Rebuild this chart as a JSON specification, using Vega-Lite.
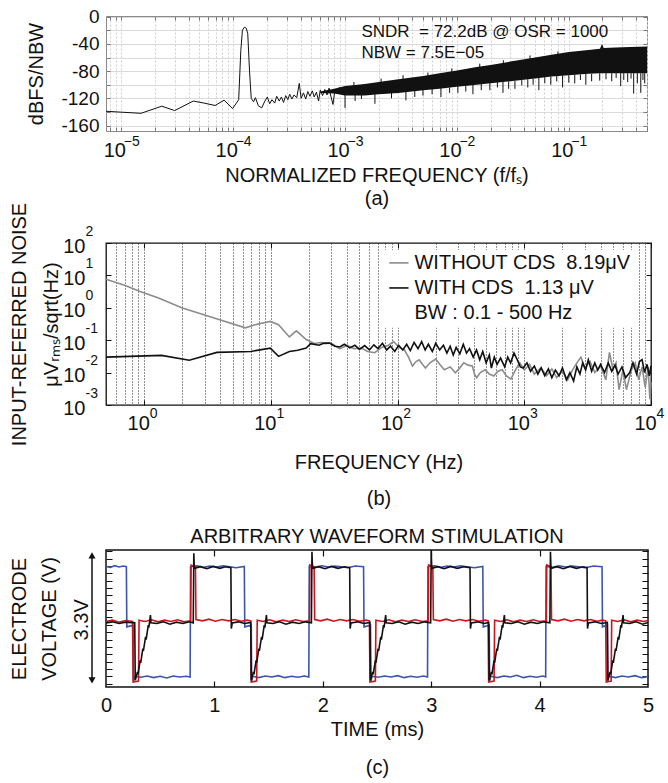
{
  "$schema": "https://vega.github.io/schema/vega-lite/v6.json",
  "padding": {"left": 8, "top": 7, "right": 0, "bottom": 0},
  "background": "white",
  "config": {
    "font": "Liberation Sans",
    "view": {"stroke": null},
    "axis": {"domain": false, "labelColor": "#111", "titleColor": "#111", "titleFontWeight": "normal", "labelFontSize": 19, "titleFontSize": 20, "labelFlush": false, "labelOverlap": false, "labelBound": false, "tickColor": "#111"},
    "title": {"fontWeight": "normal", "font": "Liberation Sans"},
    "text": {"font": "Liberation Sans"}
  },
  "datasets": {
    "a_line": [
      {"f": 0.0000073, "v": -139}, {"f": 0.000015, "v": -142}, {"f": 0.000023, "v": -131.5}, {"f": 0.00003, "v": -138},
      {"f": 0.000044, "v": -124}, {"f": 0.000055, "v": -127}, {"f": 0.000069, "v": -130.5}, {"f": 0.000083, "v": -122.7},
      {"f": 0.000099, "v": -135}, {"f": 0.000112, "v": -122}, {"f": 0.000117, "v": -50}, {"f": 0.000121, "v": -20},
      {"f": 0.000126, "v": -15.5}, {"f": 0.000131, "v": -17}, {"f": 0.000135, "v": -25}, {"f": 0.00014, "v": -80},
      {"f": 0.000145, "v": -120}, {"f": 0.000152, "v": -125}, {"f": 0.000158, "v": -119}, {"f": 0.000168, "v": -131},
      {"f": 0.00018, "v": -134}, {"f": 0.000192, "v": -124}, {"f": 0.000202, "v": -118}, {"f": 0.000212, "v": -128},
      {"f": 0.000222, "v": -122}, {"f": 0.000235, "v": -127}, {"f": 0.000245, "v": -117}, {"f": 0.000258, "v": -124},
      {"f": 0.00027, "v": -118}, {"f": 0.000282, "v": -126}, {"f": 0.000295, "v": -116}, {"f": 0.000308, "v": -122},
      {"f": 0.00032, "v": -114}, {"f": 0.000335, "v": -121}, {"f": 0.00035, "v": -115}, {"f": 0.00037, "v": -119},
      {"f": 0.00039, "v": -98}, {"f": 0.000405, "v": -120}, {"f": 0.000425, "v": -112}, {"f": 0.000445, "v": -121},
      {"f": 0.000465, "v": -110}, {"f": 0.000485, "v": -117}, {"f": 0.00051, "v": -109}, {"f": 0.00053, "v": -118},
      {"f": 0.000555, "v": -111}, {"f": 0.00058, "v": -124}, {"f": 0.0006, "v": -108}, {"f": 0.00063, "v": -116},
      {"f": 0.00066, "v": -107}, {"f": 0.00069, "v": -115}, {"f": 0.00072, "v": -105}, {"f": 0.00075, "v": -118},
      {"f": 0.00078, "v": -129}, {"f": 0.00081, "v": -109}, {"f": 0.00085, "v": -113}, {"f": 0.00089, "v": -104},
      {"f": 0.00093, "v": -114}, {"f": 0.00097, "v": -106}, {"f": 0.001, "v": -112}, {"f": 0.00105, "v": -103},
      {"f": 0.0011, "v": -111}, {"f": 0.00115, "v": -104}, {"f": 0.0012, "v": -109}
    ],
    "a_band": [
      {"f": 0.0006, "hi": -110, "lo": -112}, {"f": 0.0008, "hi": -106, "lo": -113}, {"f": 0.001, "hi": -102, "lo": -116}, {"f": 0.0015, "hi": -99, "lo": -116},
      {"f": 0.002, "hi": -96, "lo": -114}, {"f": 0.003, "hi": -92, "lo": -112}, {"f": 0.005, "hi": -87, "lo": -108},
      {"f": 0.007, "hi": -83, "lo": -106}, {"f": 0.01, "hi": -79, "lo": -103}, {"f": 0.015, "hi": -74, "lo": -100},
      {"f": 0.02, "hi": -71, "lo": -98}, {"f": 0.03, "hi": -66, "lo": -95}, {"f": 0.05, "hi": -60, "lo": -91},
      {"f": 0.07, "hi": -56, "lo": -88}, {"f": 0.1, "hi": -52, "lo": -86}, {"f": 0.15, "hi": -49, "lo": -84},
      {"f": 0.19, "hi": -47, "lo": -83}, {"f": 0.198, "hi": -40, "lo": -83}, {"f": 0.205, "hi": -46, "lo": -83},
      {"f": 0.3, "hi": -45, "lo": -83}, {"f": 0.5, "hi": -44, "lo": -83}
    ],
    "a_spikes": [
      {"f": 0.001, "top": -114, "bot": -134}, {"f": 0.00123, "top": -114, "bot": -124}, {"f": 0.0014, "top": -114, "bot": -121},
      {"f": 0.00185, "top": -113, "bot": -128}, {"f": 0.0026, "top": -112, "bot": -120}, {"f": 0.0035, "top": -110, "bot": -123},
      {"f": 0.0042, "top": -109, "bot": -118}, {"f": 0.00497, "top": -107, "bot": -116}, {"f": 0.006, "top": -106, "bot": -114},
      {"f": 0.0072, "top": -105, "bot": -118}, {"f": 0.0086, "top": -104, "bot": -112}, {"f": 0.0102, "top": -102, "bot": -112},
      {"f": 0.012, "top": -101, "bot": -110}, {"f": 0.0139, "top": -99, "bot": -114}, {"f": 0.0165, "top": -98, "bot": -108},
      {"f": 0.0197, "top": -97, "bot": -108}, {"f": 0.023, "top": -96, "bot": -104}, {"f": 0.0258, "top": -96, "bot": -112},
      {"f": 0.029, "top": -95, "bot": -106}, {"f": 0.033, "top": -94, "bot": -106}, {"f": 0.038, "top": -93, "bot": -101},
      {"f": 0.043, "top": -92, "bot": -104}, {"f": 0.048, "top": -91, "bot": -100}, {"f": 0.054, "top": -90, "bot": -108},
      {"f": 0.061, "top": -89, "bot": -98}, {"f": 0.069, "top": -88, "bot": -100}, {"f": 0.078, "top": -87, "bot": -95},
      {"f": 0.088, "top": -86, "bot": -104}, {"f": 0.1, "top": -86, "bot": -97}, {"f": 0.113, "top": -85, "bot": -98},
      {"f": 0.127, "top": -85, "bot": -93}, {"f": 0.142, "top": -84, "bot": -100}, {"f": 0.16, "top": -84, "bot": -95},
      {"f": 0.189, "top": -83, "bot": -94}, {"f": 0.215, "top": -83, "bot": -92}, {"f": 0.242, "top": -83, "bot": -95},
      {"f": 0.265, "top": -83, "bot": -90}, {"f": 0.291, "top": -83, "bot": -102}, {"f": 0.31, "top": -83, "bot": -93},
      {"f": 0.336, "top": -83, "bot": -96}, {"f": 0.36, "top": -83, "bot": -91}, {"f": 0.38, "top": -83, "bot": -113},
      {"f": 0.41, "top": -83, "bot": -98}, {"f": 0.44, "top": -83, "bot": -112}, {"f": 0.46, "top": -83, "bot": -93},
      {"f": 0.477, "top": -83, "bot": -98},
      {"f": 0.0012, "top": -96, "bot": -103}, {"f": 0.0021, "top": -91, "bot": -98}, {"f": 0.0033, "top": -86, "bot": -93},
      {"f": 0.0055, "top": -82, "bot": -88}, {"f": 0.009, "top": -76, "bot": -82}, {"f": 0.016, "top": -69, "bot": -75},
      {"f": 0.026, "top": -64, "bot": -70}, {"f": 0.045, "top": -57, "bot": -63}, {"f": 0.08, "top": -51, "bot": -57}
    ],
    "a_text": [
      {"f": 0.0014, "v": -22, "txt": "SNDR\u00a0 = 72.2dB @ OSR = 1000"},
      {"f": 0.0014, "v": -53, "txt": "NBW = 7.5E\u221205"}
    ],
    "b_gray": [
      {"f": 0.5, "v": 7.6}, {"f": 0.7, "v": 5.0}, {"f": 0.93, "v": 3.2}, {"f": 1.3, "v": 2.0}, {"f": 2.0, "v": 0.98},
      {"f": 2.96, "v": 0.61}, {"f": 4.0, "v": 0.42}, {"f": 6.3, "v": 0.24}, {"f": 7.5, "v": 0.30}, {"f": 9.9, "v": 0.38},
      {"f": 11.5, "v": 0.30}, {"f": 14, "v": 0.126}, {"f": 15.9, "v": 0.195}, {"f": 19, "v": 0.105}, {"f": 22, "v": 0.079},
      {"f": 25, "v": 0.085}, {"f": 30, "v": 0.081}, {"f": 35, "v": 0.054}, {"f": 40, "v": 0.07}, {"f": 45, "v": 0.055},
      {"f": 52, "v": 0.057}, {"f": 58, "v": 0.045}, {"f": 66, "v": 0.041}, {"f": 75, "v": 0.06}, {"f": 85, "v": 0.07},
      {"f": 93, "v": 0.091}, {"f": 103, "v": 0.06}, {"f": 113, "v": 0.051}, {"f": 122, "v": 0.03}, {"f": 131, "v": 0.016},
      {"f": 140, "v": 0.022}, {"f": 148, "v": 0.025}, {"f": 157, "v": 0.018}, {"f": 166, "v": 0.0138}, {"f": 180, "v": 0.02},
      {"f": 200, "v": 0.026}, {"f": 215, "v": 0.018}, {"f": 234, "v": 0.0123}, {"f": 260, "v": 0.015}, {"f": 286, "v": 0.0098},
      {"f": 310, "v": 0.014}, {"f": 333, "v": 0.02}, {"f": 360, "v": 0.017}, {"f": 389, "v": 0.016}, {"f": 405, "v": 0.009},
      {"f": 421, "v": 0.0069}, {"f": 450, "v": 0.01}, {"f": 492, "v": 0.0123}, {"f": 530, "v": 0.009}, {"f": 574, "v": 0.0078},
      {"f": 620, "v": 0.011}, {"f": 670, "v": 0.0123}, {"f": 720, "v": 0.008}, {"f": 784, "v": 0.0063}, {"f": 850, "v": 0.012},
      {"f": 920, "v": 0.02}, {"f": 1000, "v": 0.012}, {"f": 1100, "v": 0.018}, {"f": 1200, "v": 0.009}, {"f": 1350, "v": 0.014},
      {"f": 1500, "v": 0.008}, {"f": 1650, "v": 0.013}, {"f": 1800, "v": 0.007}, {"f": 2000, "v": 0.011}, {"f": 2200, "v": 0.006},
      {"f": 2400, "v": 0.012}, {"f": 2600, "v": 0.02}, {"f": 2800, "v": 0.03}, {"f": 3000, "v": 0.014}, {"f": 3300, "v": 0.022},
      {"f": 3600, "v": 0.01}, {"f": 4000, "v": 0.016}, {"f": 4400, "v": 0.006}, {"f": 4700, "v": 0.042}, {"f": 5000, "v": 0.013},
      {"f": 5300, "v": 0.02}, {"f": 5600, "v": 0.003}, {"f": 6000, "v": 0.012}, {"f": 6400, "v": 0.003}, {"f": 7000, "v": 0.012},
      {"f": 7500, "v": 0.02}, {"f": 8000, "v": 0.006}, {"f": 8500, "v": 0.015}, {"f": 9000, "v": 0.0035}, {"f": 9500, "v": 0.015},
      {"f": 9800, "v": 0.0015}, {"f": 10000, "v": 0.005}
    ],
    "b_black": [
      {"f": 0.5, "v": 0.03}, {"f": 1.37, "v": 0.034}, {"f": 2.27, "v": 0.024}, {"f": 3.75, "v": 0.042}, {"f": 6.95, "v": 0.045},
      {"f": 9.9, "v": 0.057}, {"f": 11.5, "v": 0.0316}, {"f": 14, "v": 0.045}, {"f": 16.3, "v": 0.049}, {"f": 19, "v": 0.057},
      {"f": 20.6, "v": 0.078}, {"f": 24, "v": 0.07}, {"f": 26, "v": 0.08}, {"f": 29, "v": 0.081}, {"f": 32, "v": 0.065},
      {"f": 35, "v": 0.062}, {"f": 38, "v": 0.075}, {"f": 42, "v": 0.058}, {"f": 46, "v": 0.07}, {"f": 50, "v": 0.052},
      {"f": 55, "v": 0.068}, {"f": 60, "v": 0.05}, {"f": 65, "v": 0.072}, {"f": 70, "v": 0.055}, {"f": 76, "v": 0.08},
      {"f": 82, "v": 0.05}, {"f": 88, "v": 0.065}, {"f": 95, "v": 0.045}, {"f": 102, "v": 0.07}, {"f": 110, "v": 0.05},
      {"f": 118, "v": 0.075}, {"f": 126, "v": 0.048}, {"f": 135, "v": 0.085}, {"f": 145, "v": 0.055}, {"f": 155, "v": 0.09},
      {"f": 165, "v": 0.05}, {"f": 175, "v": 0.075}, {"f": 188, "v": 0.045}, {"f": 200, "v": 0.08}, {"f": 215, "v": 0.05},
      {"f": 230, "v": 0.07}, {"f": 245, "v": 0.04}, {"f": 260, "v": 0.065}, {"f": 275, "v": 0.035}, {"f": 290, "v": 0.06},
      {"f": 310, "v": 0.038}, {"f": 330, "v": 0.075}, {"f": 350, "v": 0.04}, {"f": 370, "v": 0.055}, {"f": 395, "v": 0.03},
      {"f": 420, "v": 0.05}, {"f": 445, "v": 0.025}, {"f": 470, "v": 0.045}, {"f": 500, "v": 0.02}, {"f": 530, "v": 0.035},
      {"f": 550, "v": 0.0138}, {"f": 580, "v": 0.03}, {"f": 610, "v": 0.018}, {"f": 650, "v": 0.028}, {"f": 700, "v": 0.015},
      {"f": 740, "v": 0.03}, {"f": 780, "v": 0.02}, {"f": 830, "v": 0.04}, {"f": 880, "v": 0.025}, {"f": 930, "v": 0.015},
      {"f": 980, "v": 0.0138}, {"f": 1050, "v": 0.02}, {"f": 1120, "v": 0.011}, {"f": 1200, "v": 0.016}, {"f": 1280, "v": 0.009},
      {"f": 1360, "v": 0.014}, {"f": 1450, "v": 0.008}, {"f": 1550, "v": 0.013}, {"f": 1650, "v": 0.007}, {"f": 1760, "v": 0.012},
      {"f": 1880, "v": 0.008}, {"f": 2000, "v": 0.014}, {"f": 2150, "v": 0.006}, {"f": 2290, "v": 0.01}, {"f": 2450, "v": 0.0055},
      {"f": 2600, "v": 0.015}, {"f": 2750, "v": 0.009}, {"f": 2890, "v": 0.02}, {"f": 3050, "v": 0.012}, {"f": 3200, "v": 0.025},
      {"f": 3400, "v": 0.011}, {"f": 3600, "v": 0.02}, {"f": 3800, "v": 0.012}, {"f": 4000, "v": 0.018}, {"f": 4300, "v": 0.01},
      {"f": 4600, "v": 0.02}, {"f": 4900, "v": 0.011}, {"f": 5200, "v": 0.017}, {"f": 5500, "v": 0.009}, {"f": 5900, "v": 0.015},
      {"f": 6300, "v": 0.007}, {"f": 6800, "v": 0.01}, {"f": 7200, "v": 0.02}, {"f": 7700, "v": 0.009}, {"f": 8100, "v": 0.022},
      {"f": 8500, "v": 0.025}, {"f": 8900, "v": 0.01}, {"f": 9300, "v": 0.018}, {"f": 9700, "v": 0.008}, {"f": 10000, "v": 0.016}
    ],
    "b_leg": [
      {"f": 136, "v": 24.3, "txt": "WITHOUT CDS\u00a0\u00a08.19\u03bcV"},
      {"f": 136, "v": 4.1, "txt": "WITH CDS\u00a0\u00a01.13\u00a0\u03bcV"},
      {"f": 136, "v": 0.7, "txt": "BW : 0.1 - 500 Hz"}
    ],
    "c_blue": [
      {"t": 0.0, "v": 3.31}, {"t": 0.04, "v": 3.28}, {"t": 0.08, "v": 3.33}, {"t": 0.12, "v": 3.29}, {"t": 0.16, "v": 3.32},
      {"t": 0.188, "v": 3.3}, {"t": 0.192, "v": 1.5}, {"t": 0.25, "v": 1.55}, {"t": 0.254, "v": -0.12}, {"t": 0.265, "v": 0.02},
      {"t": 0.32, "v": -0.01}, {"t": 0.38, "v": 0.03}, {"t": 0.44, "v": -0.02}, {"t": 0.5, "v": 0.02}, {"t": 0.56, "v": -0.03},
      {"t": 0.62, "v": 0.03}, {"t": 0.68, "v": 0.0}, {"t": 0.74, "v": 0.02}, {"t": 0.776, "v": 0.0}, {"t": 0.78, "v": 3.3},
      {"t": 0.84, "v": 3.33}, {"t": 0.9, "v": 3.28}, {"t": 0.96, "v": 3.32}, {"t": 1.02, "v": 3.29}, {"t": 1.08, "v": 3.33},
      {"t": 1.14, "v": 3.3}, {"t": 1.2, "v": 3.27}, {"t": 1.276, "v": 3.31}, {"t": 1.28, "v": 1.5}, {"t": 1.34, "v": 1.55},
      {"t": 1.344, "v": -0.12}, {"t": 1.355, "v": 0.02}, {"t": 1.41, "v": -0.02}, {"t": 1.47, "v": 0.03}, {"t": 1.53, "v": 0.0},
      {"t": 1.59, "v": 0.04}, {"t": 1.65, "v": -0.02}, {"t": 1.71, "v": 0.02}, {"t": 1.77, "v": -0.01}, {"t": 1.83, "v": 0.03},
      {"t": 1.871, "v": 0.0}, {"t": 1.875, "v": 3.31}, {"t": 1.93, "v": 3.28}, {"t": 1.99, "v": 3.33}, {"t": 2.05, "v": 3.29},
      {"t": 2.11, "v": 3.32}, {"t": 2.17, "v": 3.3}, {"t": 2.23, "v": 3.27}, {"t": 2.3, "v": 3.32}, {"t": 2.376, "v": 3.3},
      {"t": 2.38, "v": 1.5}, {"t": 2.44, "v": 1.55}, {"t": 2.444, "v": -0.12}, {"t": 2.455, "v": 0.02}, {"t": 2.51, "v": -0.01},
      {"t": 2.57, "v": 0.03}, {"t": 2.63, "v": 0.0}, {"t": 2.69, "v": 0.04}, {"t": 2.75, "v": -0.02}, {"t": 2.81, "v": 0.02},
      {"t": 2.87, "v": -0.01}, {"t": 2.93, "v": 0.03}, {"t": 2.966, "v": 0.0}, {"t": 2.97, "v": 3.3}, {"t": 3.03, "v": 3.33},
      {"t": 3.09, "v": 3.28}, {"t": 3.15, "v": 3.32}, {"t": 3.21, "v": 3.29}, {"t": 3.27, "v": 3.33}, {"t": 3.33, "v": 3.3},
      {"t": 3.4, "v": 3.27}, {"t": 3.476, "v": 3.31}, {"t": 3.48, "v": 1.5}, {"t": 3.535, "v": 1.55}, {"t": 3.539, "v": -0.12},
      {"t": 3.55, "v": 0.02}, {"t": 3.61, "v": -0.02}, {"t": 3.67, "v": 0.03}, {"t": 3.73, "v": 0.0}, {"t": 3.79, "v": 0.05},
      {"t": 3.85, "v": -0.02}, {"t": 3.91, "v": 0.02}, {"t": 3.97, "v": -0.01}, {"t": 4.03, "v": 0.03}, {"t": 4.056, "v": 0.0},
      {"t": 4.06, "v": 3.31}, {"t": 4.12, "v": 3.28}, {"t": 4.18, "v": 3.33}, {"t": 4.24, "v": 3.29}, {"t": 4.3, "v": 3.32},
      {"t": 4.36, "v": 3.3}, {"t": 4.42, "v": 3.27}, {"t": 4.5, "v": 3.32}, {"t": 4.576, "v": 3.3}, {"t": 4.58, "v": 1.5},
      {"t": 4.625, "v": 1.55}, {"t": 4.629, "v": -0.12}, {"t": 4.64, "v": 0.02}, {"t": 4.7, "v": -0.02}, {"t": 4.76, "v": 0.03},
      {"t": 4.82, "v": 0.0}, {"t": 4.88, "v": 0.04}, {"t": 4.94, "v": -0.02}, {"t": 5.0, "v": 0.01}
    ],
    "c_red": [
      {"t": 0.0, "v": 1.66}, {"t": 0.06, "v": 1.7}, {"t": 0.12, "v": 1.64}, {"t": 0.18, "v": 1.69}, {"t": 0.245, "v": 1.66},
      {"t": 0.25, "v": -0.15}, {"t": 0.3, "v": -0.12}, {"t": 0.305, "v": 1.7}, {"t": 0.36, "v": 1.66}, {"t": 0.42, "v": 1.71},
      {"t": 0.48, "v": 1.65}, {"t": 0.54, "v": 1.7}, {"t": 0.6, "v": 1.66}, {"t": 0.66, "v": 1.71}, {"t": 0.72, "v": 1.65},
      {"t": 0.781, "v": 1.68}, {"t": 0.785, "v": 3.35}, {"t": 0.825, "v": 3.3}, {"t": 0.83, "v": 1.72}, {"t": 0.89, "v": 1.68},
      {"t": 0.95, "v": 1.73}, {"t": 1.01, "v": 1.67}, {"t": 1.07, "v": 1.72}, {"t": 1.13, "v": 1.68}, {"t": 1.19, "v": 1.72},
      {"t": 1.25, "v": 1.67}, {"t": 1.3, "v": 1.7}, {"t": 1.335, "v": 1.68}, {"t": 1.34, "v": -0.15}, {"t": 1.39, "v": -0.12},
      {"t": 1.395, "v": 1.7}, {"t": 1.45, "v": 1.66}, {"t": 1.51, "v": 1.71}, {"t": 1.57, "v": 1.65}, {"t": 1.63, "v": 1.7},
      {"t": 1.69, "v": 1.66}, {"t": 1.75, "v": 1.71}, {"t": 1.82, "v": 1.66}, {"t": 1.877, "v": 1.68}, {"t": 1.881, "v": 3.35},
      {"t": 1.92, "v": 3.3}, {"t": 1.925, "v": 1.72}, {"t": 1.98, "v": 1.68}, {"t": 2.04, "v": 1.73}, {"t": 2.1, "v": 1.67},
      {"t": 2.16, "v": 1.72}, {"t": 2.22, "v": 1.68}, {"t": 2.28, "v": 1.72}, {"t": 2.34, "v": 1.67}, {"t": 2.4, "v": 1.7},
      {"t": 2.43, "v": 1.68}, {"t": 2.435, "v": -0.15}, {"t": 2.485, "v": -0.12}, {"t": 2.49, "v": 1.7}, {"t": 2.55, "v": 1.66},
      {"t": 2.61, "v": 1.71}, {"t": 2.67, "v": 1.65}, {"t": 2.73, "v": 1.7}, {"t": 2.79, "v": 1.66}, {"t": 2.85, "v": 1.71},
      {"t": 2.92, "v": 1.66}, {"t": 2.972, "v": 1.68}, {"t": 2.976, "v": 3.35}, {"t": 3.015, "v": 3.3}, {"t": 3.02, "v": 1.72},
      {"t": 3.08, "v": 1.68}, {"t": 3.14, "v": 1.73}, {"t": 3.2, "v": 1.67}, {"t": 3.26, "v": 1.72}, {"t": 3.32, "v": 1.68},
      {"t": 3.38, "v": 1.72}, {"t": 3.44, "v": 1.67}, {"t": 3.5, "v": 1.7}, {"t": 3.525, "v": 1.68}, {"t": 3.53, "v": -0.15},
      {"t": 3.58, "v": -0.12}, {"t": 3.585, "v": 1.7}, {"t": 3.64, "v": 1.66}, {"t": 3.7, "v": 1.71}, {"t": 3.76, "v": 1.65},
      {"t": 3.82, "v": 1.7}, {"t": 3.88, "v": 1.66}, {"t": 3.94, "v": 1.71}, {"t": 4.0, "v": 1.66}, {"t": 4.062, "v": 1.68},
      {"t": 4.066, "v": 3.35}, {"t": 4.105, "v": 3.3}, {"t": 4.11, "v": 1.72}, {"t": 4.17, "v": 1.68}, {"t": 4.23, "v": 1.73},
      {"t": 4.29, "v": 1.67}, {"t": 4.35, "v": 1.72}, {"t": 4.41, "v": 1.68}, {"t": 4.47, "v": 1.72}, {"t": 4.53, "v": 1.67},
      {"t": 4.58, "v": 1.7}, {"t": 4.61, "v": 1.68}, {"t": 4.615, "v": -0.15}, {"t": 4.66, "v": -0.12}, {"t": 4.665, "v": 1.7},
      {"t": 4.72, "v": 1.66}, {"t": 4.78, "v": 1.71}, {"t": 4.84, "v": 1.65}, {"t": 4.9, "v": 1.7}, {"t": 4.96, "v": 1.66},
      {"t": 5.0, "v": 1.69}
    ],
    "c_black": [
      {"t": 0.0, "v": 1.62}, {"t": 0.06, "v": 1.65}, {"t": 0.12, "v": 1.6}, {"t": 0.18, "v": 1.64}, {"t": 0.265, "v": 1.62},
      {"t": 0.27, "v": -0.1}, {"t": 0.29, "v": 0.15}, {"t": 0.295, "v": 0.08}, {"t": 0.315, "v": 0.5}, {"t": 0.32, "v": 0.42},
      {"t": 0.34, "v": 0.85}, {"t": 0.345, "v": 0.78}, {"t": 0.365, "v": 1.2}, {"t": 0.37, "v": 1.12}, {"t": 0.39, "v": 1.55},
      {"t": 0.395, "v": 1.48}, {"t": 0.41, "v": 1.85}, {"t": 0.415, "v": 1.62}, {"t": 0.47, "v": 1.6}, {"t": 0.53, "v": 1.65},
      {"t": 0.59, "v": 1.58}, {"t": 0.65, "v": 1.64}, {"t": 0.71, "v": 1.6}, {"t": 0.77, "v": 1.65}, {"t": 0.805, "v": 1.62},
      {"t": 0.81, "v": 3.7}, {"t": 0.815, "v": 3.25}, {"t": 0.87, "v": 3.3}, {"t": 0.93, "v": 3.24}, {"t": 0.99, "v": 3.31},
      {"t": 1.05, "v": 3.25}, {"t": 1.1, "v": 3.3}, {"t": 1.152, "v": 3.27}, {"t": 1.156, "v": 1.45}, {"t": 1.165, "v": 1.62},
      {"t": 1.22, "v": 1.65}, {"t": 1.28, "v": 1.6}, {"t": 1.335, "v": 1.63}, {"t": 1.34, "v": -0.1}, {"t": 1.36, "v": 0.15},
      {"t": 1.365, "v": 0.08}, {"t": 1.385, "v": 0.5}, {"t": 1.39, "v": 0.42}, {"t": 1.41, "v": 0.85}, {"t": 1.415, "v": 0.78},
      {"t": 1.435, "v": 1.2}, {"t": 1.44, "v": 1.12}, {"t": 1.46, "v": 1.55}, {"t": 1.465, "v": 1.48}, {"t": 1.48, "v": 1.85},
      {"t": 1.485, "v": 1.62}, {"t": 1.54, "v": 1.6}, {"t": 1.6, "v": 1.65}, {"t": 1.66, "v": 1.58}, {"t": 1.72, "v": 1.64},
      {"t": 1.78, "v": 1.6}, {"t": 1.84, "v": 1.65}, {"t": 1.895, "v": 1.62}, {"t": 1.9, "v": 3.75}, {"t": 1.905, "v": 3.25},
      {"t": 1.96, "v": 3.3}, {"t": 2.02, "v": 3.24}, {"t": 2.08, "v": 3.31}, {"t": 2.14, "v": 3.25}, {"t": 2.2, "v": 3.3},
      {"t": 2.248, "v": 3.27}, {"t": 2.252, "v": 1.45}, {"t": 2.26, "v": 1.62}, {"t": 2.32, "v": 1.65}, {"t": 2.38, "v": 1.6},
      {"t": 2.435, "v": 1.63}, {"t": 2.44, "v": -0.1}, {"t": 2.46, "v": 0.15}, {"t": 2.465, "v": 0.08}, {"t": 2.485, "v": 0.5},
      {"t": 2.49, "v": 0.42}, {"t": 2.51, "v": 0.85}, {"t": 2.515, "v": 0.78}, {"t": 2.535, "v": 1.2}, {"t": 2.54, "v": 1.12},
      {"t": 2.56, "v": 1.55}, {"t": 2.565, "v": 1.48}, {"t": 2.58, "v": 1.85}, {"t": 2.585, "v": 1.62}, {"t": 2.64, "v": 1.6},
      {"t": 2.7, "v": 1.65}, {"t": 2.76, "v": 1.58}, {"t": 2.82, "v": 1.64}, {"t": 2.88, "v": 1.6}, {"t": 2.94, "v": 1.65},
      {"t": 2.995, "v": 1.62}, {"t": 3.0, "v": 3.8}, {"t": 3.005, "v": 3.25}, {"t": 3.06, "v": 3.3}, {"t": 3.12, "v": 3.24},
      {"t": 3.18, "v": 3.31}, {"t": 3.24, "v": 3.25}, {"t": 3.3, "v": 3.3}, {"t": 3.358, "v": 3.27}, {"t": 3.362, "v": 1.45},
      {"t": 3.37, "v": 1.62}, {"t": 3.43, "v": 1.65}, {"t": 3.49, "v": 1.6}, {"t": 3.53, "v": 1.63}, {"t": 3.535, "v": -0.1},
      {"t": 3.555, "v": 0.15}, {"t": 3.56, "v": 0.08}, {"t": 3.58, "v": 0.5}, {"t": 3.585, "v": 0.42}, {"t": 3.605, "v": 0.85},
      {"t": 3.61, "v": 0.78}, {"t": 3.63, "v": 1.2}, {"t": 3.635, "v": 1.12}, {"t": 3.655, "v": 1.55}, {"t": 3.66, "v": 1.48},
      {"t": 3.675, "v": 1.85}, {"t": 3.68, "v": 1.62}, {"t": 3.74, "v": 1.6}, {"t": 3.8, "v": 1.65}, {"t": 3.86, "v": 1.58},
      {"t": 3.92, "v": 1.64}, {"t": 3.98, "v": 1.6}, {"t": 4.04, "v": 1.65}, {"t": 4.095, "v": 1.62}, {"t": 4.1, "v": 3.75},
      {"t": 4.105, "v": 3.25}, {"t": 4.16, "v": 3.3}, {"t": 4.22, "v": 3.24}, {"t": 4.28, "v": 3.31}, {"t": 4.34, "v": 3.25},
      {"t": 4.4, "v": 3.3}, {"t": 4.438, "v": 3.27}, {"t": 4.442, "v": 1.45}, {"t": 4.45, "v": 1.62}, {"t": 4.51, "v": 1.65},
      {"t": 4.57, "v": 1.6}, {"t": 4.625, "v": 1.63}, {"t": 4.63, "v": -0.1}, {"t": 4.65, "v": 0.15}, {"t": 4.655, "v": 0.08},
      {"t": 4.675, "v": 0.5}, {"t": 4.68, "v": 0.42}, {"t": 4.7, "v": 0.85}, {"t": 4.705, "v": 0.78}, {"t": 4.725, "v": 1.2},
      {"t": 4.73, "v": 1.12}, {"t": 4.75, "v": 1.55}, {"t": 4.755, "v": 1.48}, {"t": 4.77, "v": 1.85}, {"t": 4.775, "v": 1.62},
      {"t": 4.83, "v": 1.6}, {"t": 4.89, "v": 1.65}, {"t": 4.95, "v": 1.58}, {"t": 5.0, "v": 1.63}
    ]
  },
  "bounds": "flush",
  "spacing": 0,
  "vconcat": [
    {
      "width": 541, "height": 115,
      "view": {"stroke": "#8a8a8a", "strokeWidth": 1},
      "resolve": {"axis": {"x": "independent", "y": "independent"}},
      "layer": [
        {
          "data": {"name": "a_band"},
          "mark": {"type": "area", "color": "#111", "opacity": 1},
          "encoding": {
            "x": {"field": "f", "type": "quantitative", "scale": {"type": "log", "domain": [0.0000073, 0.5], "nice": false},
              "axis": {"orient": "bottom", "values": [0.000008,0.000009,0.00001,0.00002,0.00003,0.00004,0.00005,0.00006,0.00007,0.00008,0.00009,0.0001,0.0002,0.0003,0.0004,0.0005,0.0006,0.0007,0.0008,0.0009,0.001,0.002,0.003,0.004,0.005,0.006,0.007,0.008,0.009,0.01,0.02,0.03,0.04,0.05,0.06,0.07,0.08,0.09,0.1,0.2,0.3,0.4,0.5], "labels": false, "grid": false, "tickSize": -4, "tickColor": "#777", "title": null}},
            "y": {"field": "hi", "type": "quantitative", "scale": {"domain": [-168, 1], "nice": false, "zero": false},
              "axis": {"orient": "left", "values": [-160,-140,-120,-100,-80,-60,-40,-20,0], "labels": false, "grid": false, "tickSize": -4, "tickColor": "#777", "title": null}},
            "y2": {"field": "lo"}
          }
        },
        {
          "data": {"name": "a_spikes"},
          "mark": {"type": "rule", "color": "#111", "strokeWidth": 1},
          "encoding": {
            "x": {"field": "f", "type": "quantitative",
              "axis": {"orient": "top", "values": [0.000008,0.000009,0.00001,0.00002,0.00003,0.00004,0.00005,0.00006,0.00007,0.00008,0.00009,0.0001,0.0002,0.0003,0.0004,0.0005,0.0006,0.0007,0.0008,0.0009,0.001,0.002,0.003,0.004,0.005,0.006,0.007,0.008,0.009,0.01,0.02,0.03,0.04,0.05,0.06,0.07,0.08,0.09,0.1,0.2,0.3,0.4,0.5], "labels": false, "grid": false, "tickSize": -4, "tickColor": "#777", "title": null}},
            "y": {"field": "top", "type": "quantitative",
              "axis": {"orient": "right", "values": [-160,-140,-120,-100,-80,-60,-40,-20,0], "labels": false, "grid": false, "tickSize": -4, "tickColor": "#777", "title": null}},
            "y2": {"field": "bot"}
          }
        },
        {
          "data": {"name": "a_line"},
          "mark": {"type": "line", "color": "#111", "strokeWidth": 1},
          "encoding": {
            "x": {"field": "f", "type": "quantitative",
              "axis": {"orient": "bottom", "values": [0.000008,0.000009,0.00001,0.00002,0.00003,0.00004,0.00005,0.00006,0.00007,0.00008,0.00009,0.0001,0.0002,0.0003,0.0004,0.0005,0.0006,0.0007,0.0008,0.0009,0.001,0.002,0.003,0.004,0.005,0.006,0.007,0.008,0.009,0.01,0.02,0.03,0.04,0.05,0.06,0.07,0.08,0.09,0.1,0.2,0.3,0.4,0.5],
                "grid": true, "gridColor": "#cfcfcf", "gridDash": [2, 2], "ticks": false,
                "labelExpr": "abs(log(datum.value)/LN10 - round(log(datum.value)/LN10)) < 0.001 ? '10' : ''",
                "labelFontSize": 20, "labelPadding": 9, "labelOffset": -7,
                "title": ["NORMALIZED FREQUENCY (f/f\u209b)", "(a)"], "titleFontSize": 20, "titleLineHeight": 23, "titlePadding": 5}},
            "y": {"field": "v", "type": "quantitative",
              "axis": {"orient": "left", "values": [-160,-140,-120,-100,-80,-60,-40,-20,0], "grid": true, "gridColor": "#dadada", "ticks": false,
                "labelExpr": "datum.value % 40 == 0 ? '' + datum.value : ''", "labelFontSize": 19, "labelPadding": 7,
                "title": "dBFS/NBW", "titleFontSize": 20, "titlePadding": 14}}
          }
        },
        {
          "data": {"name": "a_text"},
          "mark": {"type": "text", "align": "left", "baseline": "middle", "fontSize": 17, "color": "#111"},
          "encoding": {
            "x": {"field": "f", "type": "quantitative",
              "axis": {"orient": "bottom", "values": [0.00001, 0.0001, 0.001, 0.01, 0.1], "grid": false, "ticks": false,
                "labelExpr": "format(round(log(datum.value)/LN10), 'd')", "labelFontSize": 14, "labelPadding": 3, "labelOffset": 10, "title": null}},
            "y": {"field": "v", "type": "quantitative", "axis": null},
            "text": {"field": "txt"}
          }
        }
      ]
    },
    {
      "width": 10, "height": 112, "view": {"stroke": null},
      "data": {"values": [{}]},
      "mark": {"type": "rule", "opacity": 0},
      "encoding": {}
    },
    {
      "width": 545, "height": 162,
      "view": {"stroke": "#111", "strokeWidth": 1.3},
      "resolve": {"axis": {"x": "independent", "y": "independent"}},
      "layer": [
        {
          "data": {"name": "b_gray"},
          "mark": {"type": "line", "color": "#8c8c8c", "strokeWidth": 1.6},
          "encoding": {
            "x": {"field": "f", "type": "quantitative", "scale": {"type": "log", "domain": [0.5, 10000], "nice": false},
              "axis": {"orient": "bottom", "values": [0.5,0.6,0.7,0.8,0.9,1,2,3,4,5,6,7,8,9,10,20,30,40,50,60,70,80,90,100,200,300,400,500,600,700,800,900,1000,2000,3000,4000,5000,6000,7000,8000,9000,10000],
                "grid": true, "gridColor": "#222", "gridDash": [1, 2], "gridWidth": 1, "ticks": false,
                "labelExpr": "abs(log(datum.value)/LN10 - round(log(datum.value)/LN10)) < 0.001 ? '10' : ''",
                "labelFontSize": 20, "labelPadding": 8, "labelOffset": -6,
                "title": ["FREQUENCY (Hz)", "(b)"], "titleFontSize": 20, "titleLineHeight": 36, "titlePadding": 19}},
            "y": {"field": "v", "type": "quantitative", "scale": {"type": "log", "domain": [0.001, 100], "nice": false},
              "axis": {"orient": "left", "values": [0.001, 0.01, 0.1, 1, 10, 100], "grid": false, "ticks": false,
                "labelExpr": "'10'", "labelFontSize": 20, "labelAlign": "right", "labelPadding": 21, "labelOffset": 3,
                "title": ["INPUT-REFERRED NOISE", "\u03bcV\u1d63\u2098\u209b/sqrt(Hz)"], "titleFontSize": 20, "titleLineHeight": 32, "titlePadding": 1}}
          }
        },
        {
          "data": {"name": "b_black"},
          "mark": {"type": "line", "color": "#111", "strokeWidth": 1.6},
          "encoding": {
            "x": {"field": "f", "type": "quantitative",
              "axis": {"orient": "bottom", "values": [1, 10, 100, 1000, 10000], "labels": false, "grid": false, "tickSize": -5, "title": null}},
            "y": {"field": "v", "type": "quantitative",
              "axis": {"orient": "left", "values": [0.001, 0.01, 0.1, 1, 10, 100], "labels": false, "grid": false, "tickSize": -5, "title": null}}
          }
        },
        {
          "data": {"values": [{}]},
          "mark": {"type": "rect", "color": "white", "clip": false},
          "encoding": {
            "x": {"datum": 76, "type": "quantitative", "axis": {"orient": "top", "values": [1, 10, 100, 1000, 10000], "labels": false, "grid": false, "tickSize": -5, "title": null}},
            "x2": {"datum": 7400},
            "y": {"datum": 0.243, "type": "quantitative", "axis": {"orient": "right", "values": [0.001, 0.01, 0.1, 1, 10, 100], "labels": false, "grid": false, "tickSize": -5, "title": null}},
            "y2": {"datum": 61}
          }
        },
        {
          "data": {"values": [{}]},
          "mark": {"type": "rule", "color": "#8c8c8c", "strokeWidth": 1.6},
          "encoding": {
            "x": {"datum": 86, "type": "quantitative", "axis": null},
            "x2": {"datum": 122},
            "y": {"datum": 24.3, "type": "quantitative", "axis": null}
          }
        },
        {
          "data": {"values": [{}]},
          "mark": {"type": "rule", "color": "#111", "strokeWidth": 1.6},
          "encoding": {
            "x": {"datum": 86, "type": "quantitative", "axis": null},
            "x2": {"datum": 122},
            "y": {"datum": 4.1, "type": "quantitative", "axis": null}
          }
        },
        {
          "data": {"name": "b_leg"},
          "mark": {"type": "text", "align": "left", "baseline": "middle", "fontSize": 20, "color": "#111"},
          "encoding": {
            "x": {"field": "f", "type": "quantitative",
              "axis": {"orient": "bottom", "values": [1, 10, 100, 1000, 10000], "grid": false, "ticks": false,
                "labelExpr": "'' + round(log(datum.value)/LN10)", "labelFontSize": 14, "labelPadding": 1, "labelOffset": 9, "title": null}},
            "y": {"field": "v", "type": "quantitative",
              "axis": {"orient": "left", "values": [0.001, 0.01, 0.1, 1, 10, 100], "grid": false, "ticks": false,
                "labelExpr": "'' + round(log(datum.value)/LN10)", "labelFontSize": 14, "labelAlign": "left", "labelPadding": 21, "labelOffset": -12, "title": null}},
            "text": {"field": "txt"}
          }
        }
      ]
    },
    {
      "width": 10, "height": 145, "view": {"stroke": null},
      "data": {"values": [{}]},
      "mark": {"type": "rule", "opacity": 0},
      "encoding": {}
    },
    {
      "width": 542, "height": 137,
      "view": {"stroke": "#111", "strokeWidth": 1.5},
      "title": {"text": "ARBITRARY WAVEFORM STIMULATION", "fontSize": 20, "offset": 0, "anchor": "middle", "color": "#111"},
      "resolve": {"axis": {"x": "independent", "y": "independent"}},
      "layer": [
        {
          "data": {"name": "c_blue"},
          "mark": {"type": "line", "color": "#3b56a8", "strokeWidth": 1.6},
          "encoding": {
            "x": {"field": "t", "type": "quantitative", "scale": {"domain": [0, 5], "nice": false, "zero": false},
              "axis": {"orient": "bottom", "values": [0, 1, 2, 3, 4, 5], "grid": false, "ticks": false, "labelFontSize": 20, "labelPadding": 8,
                "title": ["TIME (ms)", "(c)"], "titleFontSize": 20, "titleLineHeight": 38, "titlePadding": 4}},
            "y": {"field": "v", "type": "quantitative", "scale": {"domain": [-0.3, 3.8], "nice": false, "zero": false},
              "axis": {"orient": "left", "labels": false, "ticks": false, "grid": false,
                "title": ["ELECTRODE", "VOLTAGE (V)"], "titleFontSize": 20, "titleLineHeight": 30, "titlePadding": 47}}
          }
        },
        {
          "data": {"name": "c_red"},
          "mark": {"type": "line", "color": "#c8161e", "strokeWidth": 1.6},
          "encoding": {
            "x": {"field": "t", "type": "quantitative",
              "axis": {"orient": "bottom", "values": [1, 2, 3, 4], "labels": false, "grid": false, "tickSize": -6, "tickWidth": 1.2, "title": null}},
            "y": {"field": "v", "type": "quantitative",
              "axis": {"orient": "left", "values": [-0.2,0.02,0.24,0.46,0.68,0.9,1.12,1.34,1.56,1.78,2.0,2.22,2.44,2.66,2.88,3.1,3.32,3.54,3.76], "labels": false, "grid": false, "tickSize": -6, "title": null}}
          }
        },
        {
          "data": {"name": "c_black"},
          "mark": {"type": "line", "color": "#111", "strokeWidth": 1.6},
          "encoding": {
            "x": {"field": "t", "type": "quantitative",
              "axis": {"orient": "top", "values": [1, 2, 3, 4], "labels": false, "grid": false, "tickSize": -6, "tickWidth": 1.2, "title": null}},
            "y": {"field": "v", "type": "quantitative",
              "axis": {"orient": "right", "values": [-0.2,0.02,0.24,0.46,0.68,0.9,1.12,1.34,1.56,1.78,2.0,2.22,2.44,2.66,2.88,3.1,3.32,3.54,3.76], "labels": false, "grid": false, "tickSize": -6, "title": null}}
          }
        },
        {
          "data": {"values": [{}]},
          "mark": {"type": "text", "text": "3.3V", "angle": 270, "fontSize": 20, "color": "#111", "baseline": "middle", "align": "center", "clip": false},
          "encoding": {
            "x": {"datum": -0.221, "type": "quantitative", "axis": null},
            "y": {"datum": 1.71, "type": "quantitative", "axis": null}
          }
        },
        {
          "data": {"values": [{}]},
          "mark": {"type": "rule", "color": "#111", "strokeWidth": 1.5, "clip": false},
          "encoding": {
            "x": {"datum": -0.129, "type": "quantitative", "axis": null},
            "y": {"datum": -0.1, "type": "quantitative", "axis": null},
            "y2": {"datum": 3.64}
          }
        },
        {
          "data": {"values": [{}]},
          "mark": {"type": "point", "shape": "triangle-up", "filled": true, "color": "#111", "size": 50, "opacity": 1, "clip": false},
          "encoding": {
            "x": {"datum": -0.129, "type": "quantitative", "axis": null},
            "y": {"datum": 3.64, "type": "quantitative", "axis": null}
          }
        },
        {
          "data": {"values": [{}]},
          "mark": {"type": "point", "shape": "triangle-down", "filled": true, "color": "#111", "size": 50, "opacity": 1, "clip": false},
          "encoding": {
            "x": {"datum": -0.129, "type": "quantitative", "axis": null},
            "y": {"datum": -0.1, "type": "quantitative", "axis": null}
          }
        }
      ]
    }
  ]
}
